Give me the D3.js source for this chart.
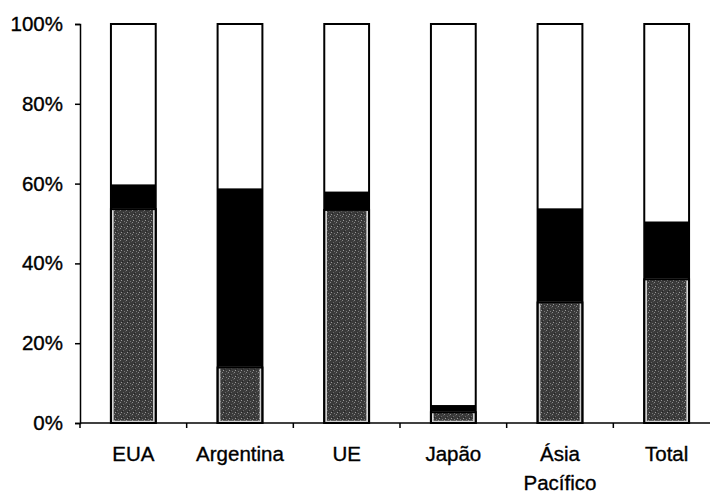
<!DOCTYPE html>
<html>
<head>
<meta charset="utf-8">
<script src="https://cdn.jsdelivr.net/npm/d3@7"></script>
<style>
  body { margin: 0; background: #fff; }
  text { font-family: "Liberation Sans", Arial, sans-serif; fill: #000; stroke: #000; stroke-width: 0.35px; }
</style>
</head>
<body>
<div id="holder"></div>
<script>
const w = 710;
const h = 494;

// DATA (percent of each bar)
const categories = ["EUA", "Argentina", "UE", "Japão", "Ásia Pacífico", "Total"];
const baseShare = [53.6, 13.9, 53.4, 2.7, 30.2, 36.0];   // gray segment
const midShare = [6.2, 44.9, 4.6, 1.8, 23.6, 14.5];      // black segment
const yTicks = [0, 20, 40, 60, 80, 100];

const plotLeft = 80, plotRight = 720, plotTop = 24, plotBottom = 423;

const svg = d3.select("#holder")
    .append("svg")
    .attr("width", w)
    .attr("height", h);

// stipple texture for the gray part
const defs = svg.append("defs");
const pat = defs.append("pattern")
    .attr("id", "stipple")
    .attr("width", 6).attr("height", 6)
    .attr("patternUnits", "userSpaceOnUse");
pat.append("rect").attr("width", 6).attr("height", 6).attr("fill", "#3a3a3a");
[[0, 0, "#8a8a8a"], [3, 2, "#6a6a6a"], [1, 4, "#9a9a9a"], [5, 1, "#555"], [4, 5, "#777"], [2, 3, "#222"]]
    .forEach(d => pat.append("rect").attr("x", d[0]).attr("y", d[1])
        .attr("width", 1).attr("height", 1).attr("fill", d[2]));

// SCALES
const x = d3.scaleBand().domain(categories).range([plotLeft, plotRight]).paddingInner(0.58).paddingOuter(0.29);
const xAxisScale = d3.scaleBand().domain(categories).range([plotLeft, plotRight]);
const y = d3.scaleLinear().domain([0, 100]).range([plotBottom, plotTop]);

const rows = categories.map((c, i) => ({
    cat: c,
    base: baseShare[i],
    mid: midShare[i]
}));

const g = svg.append("g");

// outer white bar with black outline
g.selectAll("rect.outer")
    .data(rows)
    .enter()
    .append("rect")
    .attr("class", "outer")
    .attr("x", d => x(d.cat))
    .attr("y", y(100))
    .attr("width", x.bandwidth())
    .attr("height", y(0) - y(100))
    .attr("fill", "#fff")
    .attr("stroke", "#000")
    .attr("stroke-width", 2);

// black segment
g.selectAll("rect.mid")
    .data(rows)
    .enter()
    .append("rect")
    .attr("x", d => x(d.cat))
    .attr("y", d => y(d.base + d.mid))
    .attr("width", x.bandwidth())
    .attr("height", d => y(d.base) - y(d.base + d.mid))
    .attr("fill", "#000");

// gray segment
g.selectAll("rect.base")
    .data(rows)
    .enter()
    .append("rect")
    .attr("x", d => x(d.cat) + 2)
    .attr("y", d => y(d.base))
    .attr("width", x.bandwidth() - 4)
    .attr("height", d => y(0) - y(d.base) - 1.5)
    .attr("fill", "url(#stipple)")
    .attr("stroke", "#d0d0d0")
    .attr("stroke-width", 1.5);

// black side lines over the gray part
g.selectAll("rect.side")
    .data(rows)
    .enter()
    .append("rect")
    .attr("x", d => x(d.cat))
    .attr("y", d => y(d.base))
    .attr("width", x.bandwidth())
    .attr("height", d => y(0) - y(d.base))
    .attr("fill", "none")
    .attr("stroke", "#000")
    .attr("stroke-width", 2);

// Y AXIS
const yAxis = svg.append("g")
    .attr("transform", `translate(${plotLeft},0)`)
    .call(d3.axisLeft(y).tickValues(yTicks).tickFormat(d => d + "%").tickSize(5).tickPadding(12));
yAxis.select(".domain").attr("stroke", "#000").attr("stroke-width", 1.5);
yAxis.selectAll(".tick line").attr("stroke", "#000").attr("stroke-width", 1.5);
yAxis.selectAll(".tick text").attr("font-size", 20.5).attr("font-family", "Liberation Sans, Arial, sans-serif");

// X AXIS
const xAxis = svg.append("g")
    .attr("transform", `translate(0,${plotBottom})`);
xAxis.append("line")
    .attr("x1", plotLeft).attr("x2", w)
    .attr("stroke", "#000").attr("stroke-width", 1.5);
xAxis.selectAll("line.tick")
    .data(categories)
    .enter()
    .append("line")
    .attr("x1", d => xAxisScale(d)).attr("x2", d => xAxisScale(d))
    .attr("y1", 0).attr("y2", 5)
    .attr("stroke", "#000").attr("stroke-width", 1.5);

const labels = xAxis.selectAll("text.lab")
    .data(categories)
    .enter()
    .append("text")
    .attr("x", d => xAxisScale(d) + xAxisScale.bandwidth() / 2)
    .attr("y", 38)
    .attr("text-anchor", "middle")
    .attr("font-size", 20.5);
labels.each(function (d) {
    const parts = d === "Ásia Pacífico" ? ["Ásia", "Pacífico"] : [d];
    const t = d3.select(this);
    parts.forEach((p, i) => t.append("tspan")
        .attr("x", xAxisScale(d) + xAxisScale.bandwidth() / 2)
        .attr("dy", i === 0 ? 0 : 29)
        .text(p));
});
</script>
</body>
</html>
